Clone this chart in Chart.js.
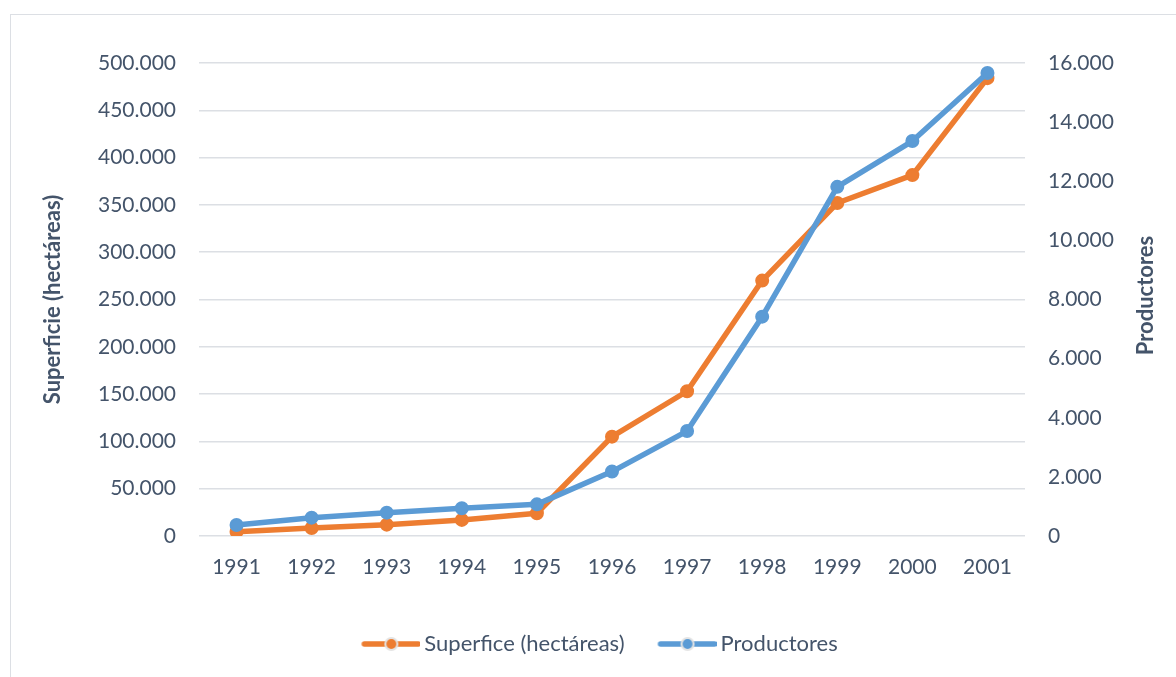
<!DOCTYPE html>
<html>
<head>
<meta charset="utf-8">
<script src="https://cdn.jsdelivr.net/npm/chart.js@4"></script>
<style>
  html, body { margin: 0; padding: 0; background: #fff; overflow: hidden; }
  #frame { position: absolute; left: 10px; top: 14px; width: 1200px; height: 700px; border: 1px solid #dcdfe4; }
  #wrap { position: absolute; left: 0; top: 0; width: 1176px; height: 677px; }
</style>
</head>
<body>
<div id="frame"></div>
<div id="wrap"><canvas id="chart"></canvas></div>
<script>
// data
const years = ['1991', '1992', '1993', '1994', '1995', '1996', '1997', '1998', '1999', '2000', '2001'];
const superficie = [4500, 8500, 12000, 17000, 24000, 105000, 153000, 270000, 352000, 381500, 484000];
const productores = [370, 620, 790, 940, 1070, 2180, 3550, 7420, 11810, 13360, 15660];

const leftTicks = { min: 0, max: 500000, step: 50000 };
const rightTicks = { min: 0, max: 16000, step: 2000 };

const colors = {
  orange: '#ED7D31',
  blue: '#5B9BD5',
  text: '#44546A',
  grid: '#dcdfe4',
  marker: '#e4e4e4'
};
const FONT = "Lato, 'Open Sans', sans-serif";

// thousands with a dot, like the original
function fmt(v) {
  return String(Math.round(v)).replace(/\B(?=(\d{3})+(?!\d))/g, '.');
}

// legend symbol: a line with a marker in the middle
function legendSymbol(color) {
  const c = document.createElement('canvas');
  c.width = 89;
  c.height = 18;
  const g = c.getContext('2d');
  const x0 = 89 - 58, x1 = 89 - 2;
  g.strokeStyle = color;
  g.lineWidth = 5.5;
  g.lineCap = 'round';
  g.beginPath();
  g.moveTo(x0 + 2, 9);
  g.lineTo(x1, 9);
  g.stroke();
  g.beginPath();
  g.arc((x0 + x1) / 2 + 1, 9, 6, 0, Math.PI * 2);
  g.fillStyle = color;
  g.fill();
  g.lineWidth = 2;
  g.strokeStyle = colors.marker;
  g.stroke();
  return c;
}
const symbols = [legendSymbol(colors.orange), legendSymbol(colors.blue)];

// right title reads bottom-to-top like the left one
const rightTitle = {
  id: 'rightTitle',
  afterDraw(chart) {
    const { ctx, chartArea } = chart;
    ctx.save();
    ctx.translate(1146, (chartArea.top + chartArea.bottom) / 2 - 4);
    ctx.rotate(-Math.PI / 2);
    ctx.font = 'bold 22px ' + FONT;
    ctx.fillStyle = colors.text;
    ctx.textAlign = 'center';
    ctx.textBaseline = 'middle';
    ctx.fillText('Productores', 0, 0);
    ctx.restore();
  }
};

const ctx = document.getElementById('chart').getContext('2d');
new Chart(ctx, {
  type: 'line',
  data: {
    labels: years,
    datasets: [
      {
        label: 'Superfice (hectáreas)',
        data: superficie,
        yAxisID: 'y',
        borderColor: colors.orange,
        backgroundColor: colors.orange,
        pointBackgroundColor: colors.orange,
        order: 1
      },
      {
        label: 'Productores',
        data: productores,
        yAxisID: 'y1',
        borderColor: colors.blue,
        backgroundColor: colors.blue,
        pointBackgroundColor: colors.blue,
        order: 0
      }
    ]
  },
  options: {
    responsive: true,
    maintainAspectRatio: false,
    animation: false,
    layout: { padding: { top: 63, bottom: 12, left: 0, right: 0 } },
    elements: {
      line: { borderWidth: 5.5, tension: 0, borderCapStyle: 'round', borderJoinStyle: 'round' },
      point: { pointStyle: 'circle', radius: 6, borderWidth: 2, borderColor: colors.marker, hoverRadius: 6 }
    },
    plugins: {
      legend: {
        position: 'bottom',
        labels: {
          usePointStyle: true,
          pointStyleWidth: 75,
          padding: 10,
          color: colors.text,
          font: { family: FONT, size: 22 },
          sort: (a, b) => a.datasetIndex - b.datasetIndex,
          generateLabels(chart) {
            const items = Chart.defaults.plugins.legend.labels.generateLabels(chart);
            items.forEach(it => { it.pointStyle = symbols[it.datasetIndex]; });
            return items;
          }
        }
      },
      tooltip: { enabled: false }
    },
    scales: {
      x: {
        offset: true,
        grid: { display: false, drawTicks: false, offset: true },
        border: { display: false },
        ticks: { color: colors.text, font: { family: FONT, size: 21 }, padding: 19 },
        afterFit(scale) { scale.height = 87; }
      },
      y: {
        position: 'left',
        min: leftTicks.min,
        max: leftTicks.max,
        grid: { color: colors.grid, lineWidth: 1.5, drawTicks: false },
        border: { display: false },
        ticks: {
          stepSize: leftTicks.step,
          padding: 23,
          color: colors.text,
          font: { family: FONT, size: 21 },
          callback: v => fmt(v)
        },
        title: {
          display: true,
          text: 'Superficie (hectáreas)',
          color: colors.text,
          font: { family: FONT, size: 22, weight: 'bold' },
          padding: { top: 40, bottom: 0 }
        },
        afterFit(scale) { scale.width = 199; }
      },
      y1: {
        position: 'right',
        min: rightTicks.min,
        max: rightTicks.max,
        grid: { display: false, drawTicks: false },
        border: { display: false },
        ticks: {
          stepSize: rightTicks.step,
          padding: 23,
          color: colors.text,
          font: { family: FONT, size: 21 },
          callback: v => fmt(v)
        },
        afterFit(scale) { scale.width = 151; }
      }
    }
  },
  plugins: [rightTitle]
});
</script>
</body>
</html>
